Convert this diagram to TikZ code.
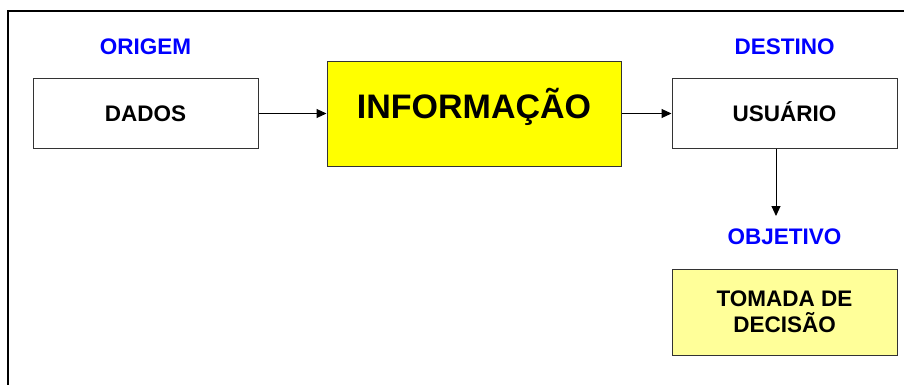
\documentclass[tikz,border=0pt]{standalone}
\usepackage{fontspec}
\setmainfont{Liberation Sans}
\usetikzlibrary{positioning,arrows.meta}
\definecolor{infoyellow}{HTML}{FFFF00}
\definecolor{paleyellow}{HTML}{FFFF99}
\definecolor{tagblue}{HTML}{0000FF}

\begin{document}
\begin{tikzpicture}[x=1pt, y=-1pt,
	main/.style = {draw=black!80, line width=1pt, minimum width=225pt, inner sep=0pt, font=\bfseries\fontsize{22.5}{26}\selectfont},
	tag/.style = {text=tagblue, inner sep=0pt, font=\bfseries\fontsize{22.5}{26}\selectfont},
	link/.style = {->, line width=1pt},
	>={Triangle[length=10pt,width=9pt]}]
			\useasboundingbox (0,0) rectangle (904,385);
			\draw[line width=1.2pt] (904,11) -- (8,11) -- (8,385);
			\node[main, minimum height=69pt, text height=16pt, text depth=0pt] (dados) at (145.5,113.5) {DADOS};
			\node[main, fill=infoyellow, minimum width=294pt, minimum height=104pt, text height=24pt, text depth=14.6pt, font=\bfseries\fontsize{34}{40}\selectfont] (info) at (474,114) {INFORMAÇÃO};
			\node[main, minimum height=69pt, text height=16pt, text depth=0pt] (usu) at (784.5,113.5) {USUÁRIO};
			\node[main, fill=paleyellow, minimum height=86pt, align=center] (decisao) at (784.5,312) {TOMADA DE\\DECISÃO};
			\node[tag] (origem) [above=24pt of dados] {ORIGEM};
			\node[tag] (destino) [above=24pt of usu] {DESTINO};
			\node[tag] (objetivo) [above=24pt of decisao] {OBJETIVO};
			\coordinate (obj-in) at (776,216);
			\draw[link] (dados.east) -- (dados.east -| info.west);
			\draw[link] (info.east |- usu.west) -- (usu.west);
			\draw[link] (usu.south -| obj-in) -- (obj-in);
		\end{tikzpicture}
\end{document}
